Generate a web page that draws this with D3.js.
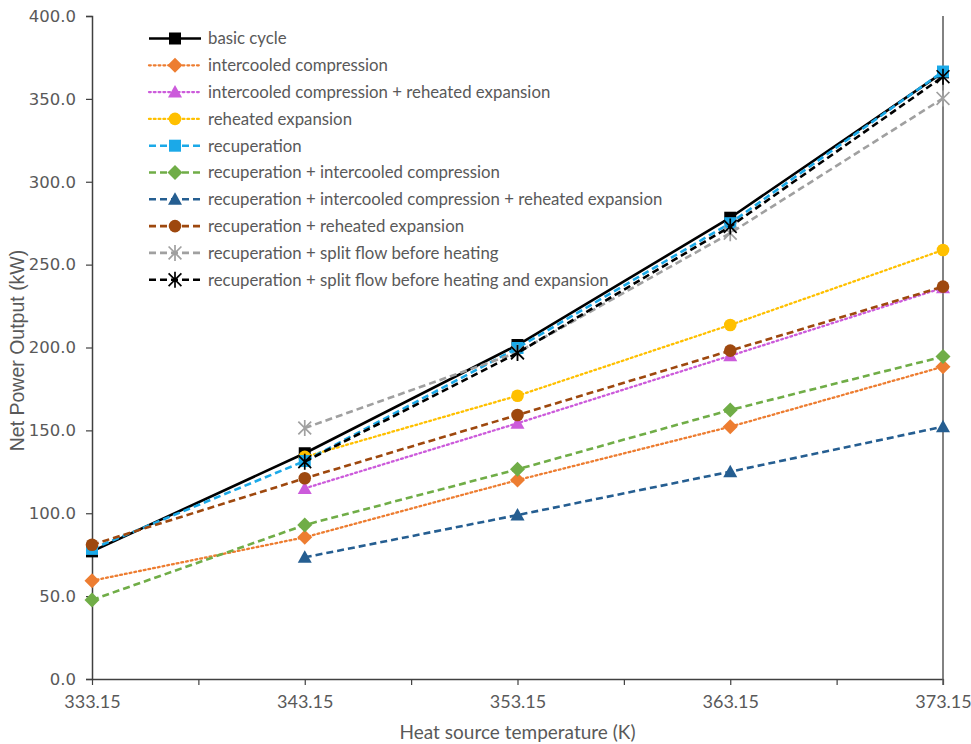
<!DOCTYPE html>
<html>
<head>
<meta charset="utf-8">
<script src="https://cdn.jsdelivr.net/npm/d3@7"></script>
<style>
  html, body { margin: 0; padding: 0; background: #fff; }
  svg { display: block; }
</style>
</head>
<body>
<svg id="chart" width="971" height="744"></svg>
<script>
// Heat source temperatures (K) and net power output (kW) per cycle layout
const temperatures = [333.15, 343.15, 353.15, 363.15, 373.15];
const xTickValues = [333.15, 338.15, 343.15, 348.15, 353.15, 358.15, 363.15, 368.15, 373.15];
const xTickLabels = ["333.15", "", "343.15", "", "353.15", "", "363.15", "", "373.15"];
const yTickValues = [0, 50, 100, 150, 200, 250, 300, 350, 400];

const seriesNames = [
  "basic cycle",
  "intercooled compression",
  "intercooled compression + reheated expansion",
  "reheated expansion",
  "recuperation",
  "recuperation + intercooled compression",
  "recuperation + intercooled compression + reheated expansion",
  "recuperation + reheated expansion",
  "recuperation + split flow before heating",
  "recuperation + split flow before heating and expansion"
];

// null = no value at that temperature
const basicCycle        = [77.0, 136.2, 201.5, 278.3, 366.0];
const intercooled       = [59.3, 85.5, 120.0, 152.2, 188.4];
const intercooledReheat = [null, 115.0, 154.3, 195.0, 236.0];
const reheated          = [null, 134.0, 170.9, 213.6, 258.8];
const recuperation      = [78.5, 131.5, 199.7, 275.0, 366.5];
const recupIntercooled  = [47.7, 92.9, 126.5, 162.3, 194.5];
const recupICReheat     = [null, 73.4, 98.9, 125.1, 152.2];
const recupReheat       = [81.0, 121.1, 159.3, 198.1, 236.7];
const recupSplit        = [null, 151.4, 197.0, 269.0, 350.3];
const recupSplitExp     = [null, 131.1, 196.7, 273.0, 363.4];

const seriesValues = [basicCycle, intercooled, intercooledReheat, reheated, recuperation,
  recupIntercooled, recupICReheat, recupReheat, recupSplit, recupSplitExp];

const seriesColors = ["#000000", "#ED7D31", "#CC5BDB", "#FFC000", "#1BA9E8",
  "#70AD47", "#255E91", "#9E480E", "#A0A0A0", "#000000"];
const seriesDash = ["solid", "dot", "dot", "dot", "dash", "dash", "dash", "dash", "dash", "dash"];
const seriesMarker = ["square", "diamond", "triangle", "circle", "square",
  "diamond", "triangle", "circle", "asterisk", "asterisk"];

const svg = d3.select("#chart");
const plot = { left: 92, right: 943, top: 16, bottom: 679 };

const x = d3.scaleLinear().domain([333.15, 373.15]).range([plot.left, plot.right]);
const y = d3.scaleLinear().domain([0, 400]).range([plot.bottom, plot.top]);

const axisColor = "#404040";
const textColor = "#595959";

// Axes
const yAxis = d3.axisLeft(y).tickValues(yTickValues).tickFormat(d3.format(".1f")).tickSize(6).tickPadding(10);
const gy = svg.append("g").attr("transform", `translate(${plot.left},0)`).call(yAxis);
gy.select(".domain").attr("stroke", axisColor).attr("stroke-width", 1.5);
gy.selectAll(".tick line").attr("stroke", axisColor).attr("stroke-width", 1.2);
gy.selectAll(".tick text").attr("fill", textColor)
  .style("font-family", "'DejaVu Sans', Verdana, sans-serif").style("font-size", "16.5px");

const xAxis = d3.axisBottom(x).tickValues(xTickValues)
  .tickFormat((d, i) => xTickLabels[i]).tickSize(6).tickPadding(10).tickSizeOuter(0);
const gx = svg.append("g").attr("transform", `translate(0,${plot.bottom})`).call(xAxis);
gx.select(".domain").attr("stroke", axisColor).attr("stroke-width", 1.5);
gx.selectAll(".tick line").attr("stroke", axisColor).attr("stroke-width", 1.2);
gx.selectAll(".tick text").attr("fill", textColor)
  .style("font-family", "Lato, 'Open Sans', sans-serif").style("font-size", "18px");

// Right-hand frame line
svg.append("line")
  .attr("x1", x(373.15)).attr("x2", x(373.15))
  .attr("y1", y(400)).attr("y2", y(0) + 6)
  .attr("stroke", "#595959").attr("stroke-width", 1.5);

// Axis titles
svg.append("text")
  .attr("x", (plot.left + plot.right) / 2).attr("y", 739)
  .attr("text-anchor", "middle").attr("fill", textColor)
  .style("font-family", "Lato, 'Open Sans', sans-serif").style("font-size", "19px")
  .text("Heat source temperature (K)");

svg.append("text")
  .attr("transform", `translate(24,${(plot.top + plot.bottom) / 2 + 3}) rotate(-90)`)
  .attr("text-anchor", "middle").attr("fill", textColor)
  .style("font-family", "'Liberation Sans Narrow', 'Liberation Sans', sans-serif").style("font-size", "19.5px")
  .text("Net Power Output (kW)");

function dashArray(style) {
  if (style === "dot") return "1.8 3";
  if (style === "dash") return "7 4";
  return null;
}

function drawMarker(g, type, color, cx, cy) {
  if (type === "square") {
    g.append("rect").attr("x", cx - 6).attr("y", cy - 6).attr("width", 12).attr("height", 12)
      .attr("fill", color);
  } else if (type === "diamond") {
    g.append("path").attr("d", `M${cx},${cy - 7.5}L${cx + 7.5},${cy}L${cx},${cy + 7.5}L${cx - 7.5},${cy}Z`)
      .attr("fill", color);
  } else if (type === "triangle") {
    g.append("path").attr("d", `M${cx},${cy - 7}L${cx + 7},${cy + 5.5}L${cx - 7},${cy + 5.5}Z`)
      .attr("fill", color);
  } else if (type === "circle") {
    g.append("circle").attr("cx", cx).attr("cy", cy).attr("r", 6.3).attr("fill", color);
  } else if (type === "asterisk") {
    const r = 8;
    g.append("path")
      .attr("d", `M${cx},${cy - r}L${cx},${cy + r}M${cx - r * 0.8},${cy - r * 0.8}L${cx + r * 0.8},${cy + r * 0.8}M${cx - r * 0.8},${cy + r * 0.8}L${cx + r * 0.8},${cy - r * 0.8}`)
      .attr("stroke", color).attr("stroke-width", 1.7).attr("fill", "none");
  }
}

// Series lines and markers
const line = d3.line()
  .defined(d => d.v !== null)
  .x(d => x(d.t)).y(d => y(d.v));

function styleLine(sel, i) {
  sel.attr("fill", "none")
    .attr("stroke", seriesColors[i])
    .attr("stroke-width", seriesDash[i] === "dot" ? 2.3 : 2.6)
    .attr("stroke-linecap", seriesDash[i] === "dot" ? "round" : "butt")
    .attr("stroke-dasharray", dashArray(seriesDash[i]));
}

seriesNames.forEach((name, i) => {
  const data = temperatures.map((t, j) => ({ t, v: seriesValues[i][j] }));
  const g = svg.append("g");
  g.append("path").datum(data).attr("d", line).call(styleLine, i);
  data.filter(d => d.v !== null).forEach(d => {
    drawMarker(g, seriesMarker[i], seriesColors[i], x(d.t), y(d.v));
  });
});

// Legend
const legend = svg.append("g");
const legendY0 = 38.5, legendStep = 26.8;
seriesNames.forEach((name, i) => {
  const ly = legendY0 + i * legendStep;
  const lg = legend.append("g");
  lg.append("line")
    .attr("x1", 149).attr("x2", 201).attr("y1", ly).attr("y2", ly)
    .call(styleLine, i);
  drawMarker(lg, seriesMarker[i], seriesColors[i], 175, ly);
  lg.append("text")
    .attr("x", 208).attr("y", ly).attr("dy", "0.35em")
    .attr("fill", textColor)
    .style("font-family", "Lato, 'Open Sans', sans-serif").style("font-size", "16.8px")
    .text(name);
});
</script>
</body>
</html>
